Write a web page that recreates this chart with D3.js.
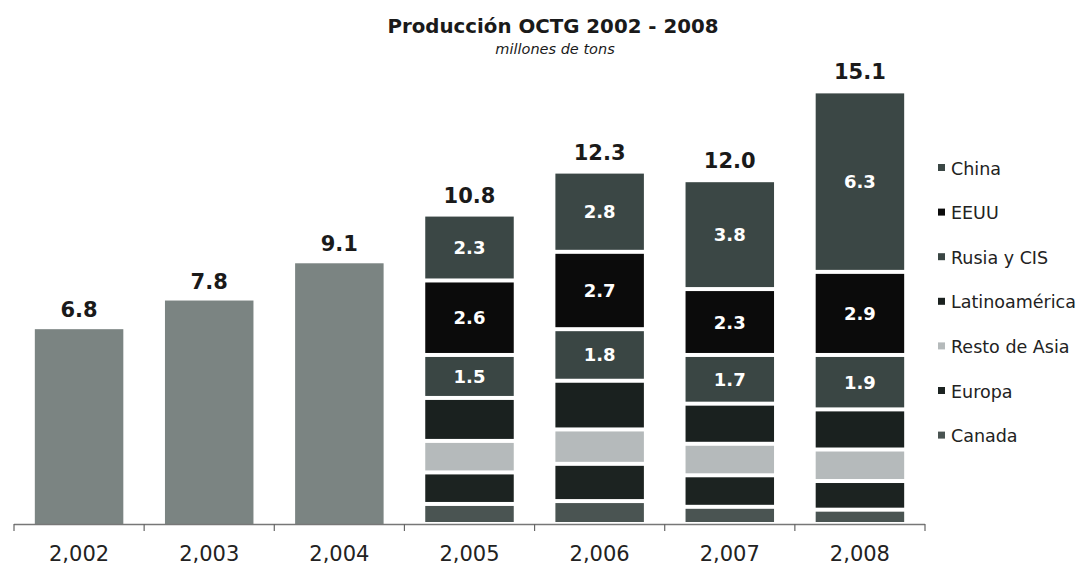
<!DOCTYPE html>
<html>
<head>
<meta charset="utf-8">
<script src="https://cdn.jsdelivr.net/npm/d3@7/dist/d3.min.js"></script>
<style>
  html, body { margin: 0; padding: 0; background: #ffffff; }
  svg { display: block; }
</style>
</head>
<body>
<svg id="chart" width="1088" height="568"></svg>
<script>
// Producción OCTG 2002 - 2008 (millones de tons)
const years = ["2,002", "2,003", "2,004", "2,005", "2,006", "2,007", "2,008"];
const totals = [6.8, 7.8, 9.1, 10.8, 12.3, 12.0, 15.1];

// Regional breakdown (available from 2005 on), bottom to top of each stack
const canada        = [null, null, null, 0.7, 0.8, 0.6, 0.5];
const europa        = [null, null, null, 1.1, 1.3, 1.1, 1.0];
const restoDeAsia   = [null, null, null, 1.1, 1.2, 1.1, 1.1];
const latinoamerica = [null, null, null, 1.5, 1.7, 1.4, 1.4];
const rusiaYCis     = [null, null, null, 1.5, 1.8, 1.7, 1.9];
const eeuu          = [null, null, null, 2.6, 2.7, 2.3, 2.9];
const china         = [null, null, null, 2.3, 2.8, 3.8, 6.3];

// Segments that carry a value label inside the bar
const labelledSeries = ["China", "EEUU", "Rusia y CIS"];

const series = [
  { name: "Canada",        values: canada,        color: "#4a5452" },
  { name: "Europa",        values: europa,        color: "#1c2321" },
  { name: "Resto de Asia", values: restoDeAsia,   color: "#b5babb" },
  { name: "Latinoamérica", values: latinoamerica, color: "#1a211f" },
  { name: "Rusia y CIS",   values: rusiaYCis,     color: "#3a4644" },
  { name: "EEUU",          values: eeuu,          color: "#0b0b0b" },
  { name: "China",         values: china,         color: "#3b4745" }
];
const totalColor = "#7b8482";
const fontFamily = "DejaVu Sans, Verdana, sans-serif";

const svg = d3.select("#chart");

const x = d3.scaleBand()
  .domain(years)
  .range([14, 925])
  .paddingInner(0.32)
  .paddingOuter(0.16);

const baseY = 524;
const y = d3.scaleLinear()
  .domain([0, 16])
  .range([baseY, baseY - 16 * 28.65]);

// Title
svg.append("text")
  .attr("x", 553).attr("y", 33)
  .attr("text-anchor", "middle")
  .attr("font-family", fontFamily)
  .attr("font-weight", "bold")
  .attr("font-size", 19.8)
  .attr("fill", "#1a1a1a")
  .text("Producción OCTG 2002 - 2008");

svg.append("text")
  .attr("x", 555).attr("y", 54)
  .attr("text-anchor", "middle")
  .attr("font-family", fontFamily)
  .attr("font-style", "italic")
  .attr("font-size", 14.5)
  .attr("fill", "#1a1a1a")
  .text("millones de tons");

// Rows: years with only a total vs. years with a regional stack
const rows = years.map((yr, i) => {
  const row = { year: yr, total: totals[i], stacked: series[0].values[i] != null };
  series.forEach(s => { row[s.name] = s.values[i] == null ? 0 : s.values[i]; });
  return row;
});

// Plain total bars
svg.append("g").selectAll("rect")
  .data(rows.filter(r => !r.stacked))
  .join("rect")
  .attr("x", d => x(d.year))
  .attr("width", x.bandwidth())
  .attr("y", d => y(d.total))
  .attr("height", d => y(0) - y(d.total))
  .attr("fill", totalColor);

// Stacked bars, with a thin white gap between segments
const stackedRows = rows.filter(r => r.stacked);
const stack = d3.stack().keys(series.map(s => s.name))(stackedRows);
const gap = 2;

const layers = svg.append("g").selectAll("g")
  .data(stack)
  .join("g")
  .attr("fill", (d, i) => series[i].color);

layers.selectAll("rect")
  .data(d => d)
  .join("rect")
  .attr("x", d => x(d.data.year))
  .attr("width", x.bandwidth())
  .attr("y", d => y(d[1]) + gap)
  .attr("height", d => Math.max(0, y(d[0]) - y(d[1]) - 2 * gap));

// Value labels inside the top three segments
stack.forEach(layer => {
  if (!labelledSeries.includes(layer.key)) return;
  svg.append("g").selectAll("text")
    .data(layer)
    .join("text")
    .attr("x", d => x(d.data.year) + x.bandwidth() / 2)
    .attr("y", d => (y(d[0]) + y(d[1])) / 2 + 6.5)
    .attr("text-anchor", "middle")
    .attr("font-family", fontFamily)
    .attr("font-weight", "bold")
    .attr("font-size", 18)
    .attr("fill", "#ffffff")
    .text(d => d3.format(".1f")(d[1] - d[0]));
});

// Totals above bars
svg.append("g").selectAll("text")
  .data(rows)
  .join("text")
  .attr("x", d => x(d.year) + x.bandwidth() / 2)
  .attr("y", d => y(d.total) - 12)
  .attr("text-anchor", "middle")
  .attr("font-family", fontFamily)
  .attr("font-weight", "bold")
  .attr("font-size", 21)
  .attr("fill", "#1a1a1a")
  .text(d => d3.format(".1f")(d.total));

// Category axis with ticks at band boundaries
const axisG = svg.append("g");
const [r0, r1] = x.range();
axisG.append("line")
  .attr("x1", r0).attr("x2", r1)
  .attr("y1", baseY + 0.5).attr("y2", baseY + 0.5)
  .attr("stroke", "#777").attr("stroke-width", 1.5);

const step = x.step();
const boundaries = d3.range(years.length + 1).map(i => r0 + i * step);
axisG.selectAll("line.tick")
  .data(boundaries)
  .join("line")
  .attr("class", "tick")
  .attr("x1", d => d).attr("x2", d => d)
  .attr("y1", baseY).attr("y2", baseY + 7)
  .attr("stroke", "#666").attr("stroke-width", 1.2);

axisG.selectAll("text")
  .data(years)
  .join("text")
  .attr("x", d => x(d) + x.bandwidth() / 2)
  .attr("y", 561)
  .attr("text-anchor", "middle")
  .attr("font-family", fontFamily)
  .attr("font-size", 21)
  .attr("fill", "#222")
  .text(d => d);

// Legend, top entry first
const legendItems = series.slice().reverse();
const legend = svg.append("g");
const lg = legend.selectAll("g")
  .data(legendItems)
  .join("g")
  .attr("transform", (d, i) => `translate(938, ${168 + i * 44.6})`);

lg.append("rect")
  .attr("x", 0).attr("y", -4)
  .attr("width", 7).attr("height", 7)
  .attr("fill", d => d.color);

lg.append("text")
  .attr("x", 13).attr("y", 6.5)
  .attr("font-family", fontFamily)
  .attr("font-size", 17.5)
  .attr("fill", "#222")
  .text(d => d.name);
</script>
</body>
</html>
